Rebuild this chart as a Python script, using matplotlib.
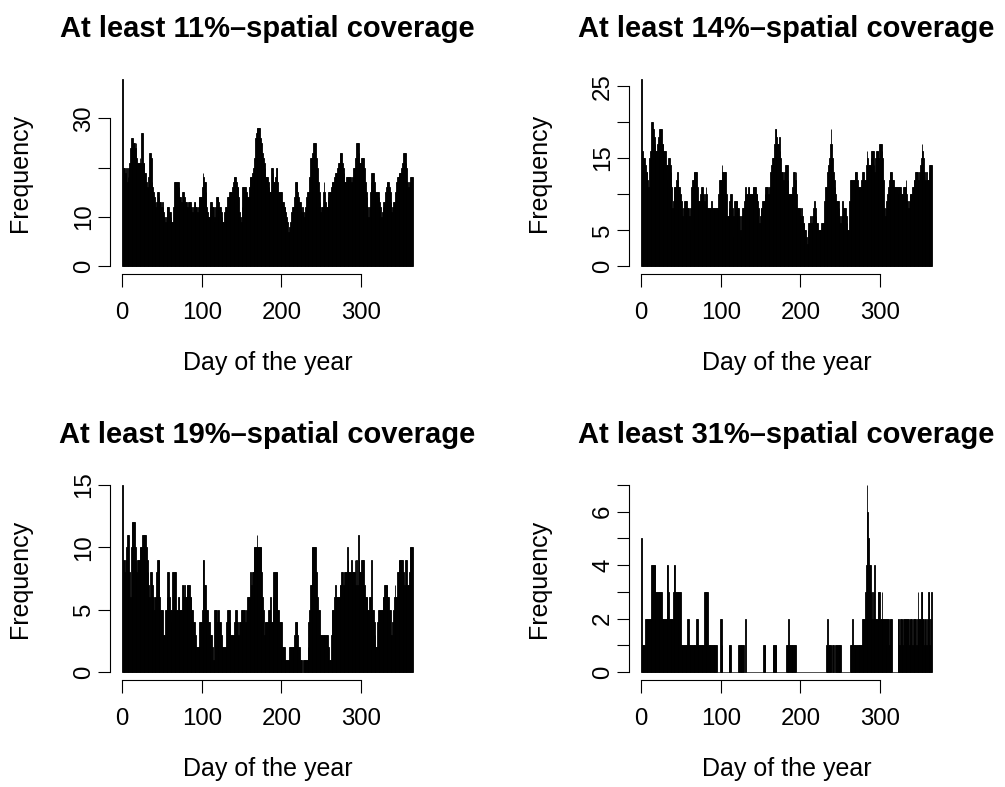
import numpy as np
import matplotlib
matplotlib.use("Agg")
import matplotlib.pyplot as plt

plt.rcParams['font.family'] = ['Liberation Sans', 'DejaVu Sans']

days = np.arange(1, 366)

# daily counts of events for each coverage threshold
p11 = [38, 20, 19, 20, 19, 20, 17, 18, 20, 21,
       24, 26, 25, 26, 25, 25, 24, 25, 22, 21,
       21, 21, 22, 21, 27, 27, 21, 21, 19, 19,
       17, 16, 16, 18, 23, 23, 22, 17, 16, 15,
       14, 13, 12, 13, 15, 15, 14, 13, 13, 12,
       13, 12, 11, 10, 9, 10, 12, 12, 12, 11,
       11, 10, 9, 9, 12, 17, 17, 17, 17, 17,
       17, 16, 14, 14, 13, 15, 15, 15, 14, 13,
       13, 12, 12, 13, 13, 13, 12, 12, 11, 12,
       13, 13, 12, 12, 11, 12, 14, 14, 14, 14,
       16, 19, 18, 17, 17, 15, 12, 11, 10, 10,
       12, 13, 13, 12, 12, 9, 10, 12, 14, 14,
       14, 13, 12, 12, 11, 10, 9, 9, 11, 12,
       12, 12, 14, 14, 15, 15, 15, 15, 16, 17,
       18, 18, 18, 17, 16, 16, 14, 11, 10, 9,
       12, 16, 16, 16, 16, 15, 15, 14, 14, 16,
       18, 18, 18, 19, 20, 20, 22, 26, 27, 28,
       28, 28, 28, 26, 25, 25, 23, 22, 21, 20,
       18, 18, 18, 17, 16, 15, 15, 20, 20, 19,
       17, 17, 18, 20, 20, 17, 15, 15, 15, 15,
       15, 13, 13, 12, 12, 11, 10, 9, 7, 7,
       8, 9, 11, 12, 12, 12, 14, 17, 17, 17,
       15, 14, 13, 13, 12, 11, 12, 11, 10, 11,
       12, 14, 15, 15, 15, 18, 22, 22, 22, 23,
       25, 25, 25, 22, 22, 20, 17, 15, 13, 11,
       12, 12, 15, 17, 15, 13, 12, 12, 14, 15,
       15, 15, 16, 17, 17, 17, 18, 19, 19, 19,
       20, 21, 21, 23, 23, 23, 21, 20, 19, 17,
       17, 18, 18, 18, 18, 18, 18, 17, 17, 18,
       20, 20, 20, 22, 25, 25, 25, 23, 21, 21,
       22, 22, 22, 22, 20, 17, 15, 14, 12, 10,
       12, 15, 17, 19, 19, 19, 17, 15, 15, 15,
       15, 15, 14, 13, 12, 10, 11, 12, 13, 13,
       15, 16, 17, 17, 17, 16, 15, 13, 11, 12,
       13, 13, 13, 15, 17, 18, 18, 19, 19, 19,
       20, 21, 21, 23, 23, 23, 21, 20, 17, 16,
       17, 17, 18, 18, 18]

p14 = [26, 16, 14, 15, 15, 14, 13, 13, 12, 11,
       15, 16, 16, 20, 20, 19, 18, 17, 16, 16,
       17, 18, 18, 19, 19, 19, 17, 17, 16, 16,
       16, 14, 12, 14, 15, 15, 14, 13, 11, 8,
       9, 11, 11, 11, 12, 13, 12, 11, 11, 10,
       9, 8, 7, 8, 9, 9, 9, 9, 8, 8,
       7, 5, 8, 11, 12, 12, 13, 13, 13, 13,
       11, 9, 9, 9, 10, 11, 11, 11, 10, 9,
       10, 11, 10, 8, 8, 8, 8, 8, 9, 8,
       8, 8, 8, 8, 8, 8, 8, 10, 12, 12,
       12, 14, 13, 13, 13, 13, 13, 10, 7, 7,
       8, 9, 10, 10, 8, 4, 7, 9, 9, 9,
       9, 8, 8, 7, 5, 4, 7, 8, 8, 9,
       10, 11, 10, 10, 11, 11, 10, 10, 10, 10,
       11, 11, 11, 11, 10, 10, 9, 8, 6, 7,
       8, 8, 9, 9, 9, 10, 11, 11, 11, 10,
       9, 11, 13, 14, 15, 15, 15, 17, 19, 19,
       18, 17, 17, 18, 16, 15, 13, 13, 12, 11,
       13, 14, 14, 14, 12, 10, 10, 10, 10, 10,
       11, 13, 13, 12, 13, 10, 8, 8, 8, 8,
       7, 8, 7, 6, 6, 5, 5, 4, 3, 5,
       6, 6, 7, 6, 6, 7, 8, 9, 8, 7,
       6, 6, 5, 5, 5, 5, 6, 6, 6, 6,
       9, 11, 11, 11, 13, 14, 15, 17, 19, 17,
       15, 13, 12, 11, 10, 9, 9, 9, 8, 7,
       6, 7, 9, 8, 8, 8, 8, 7, 6, 5,
       5, 9, 12, 12, 12, 12, 12, 12, 13, 13,
       13, 12, 11, 11, 11, 11, 12, 13, 13, 13,
       12, 12, 14, 16, 15, 14, 14, 14, 15, 16,
       16, 16, 14, 13, 15, 16, 16, 16, 15, 17,
       17, 17, 16, 15, 12, 8, 7, 8, 9, 10,
       11, 12, 13, 13, 13, 12, 12, 11, 11, 11,
       11, 11, 10, 11, 11, 11, 10, 9, 10, 11,
       11, 11, 12, 10, 9, 8, 9, 10, 10, 10,
       11, 11, 12, 12, 13, 13, 13, 12, 12, 13,
       14, 15, 17, 16, 15, 13, 12, 12, 13, 12,
       12, 13, 14, 14, 14]

p19 = [15, 9, 9, 8, 9, 10, 11, 11, 11, 8,
       6, 10, 12, 12, 12, 12, 10, 9, 8, 9,
       9, 9, 10, 10, 10, 11, 11, 11, 11, 11,
       10, 9, 8, 7, 6, 8, 8, 7, 7, 6,
       5, 6, 6, 8, 9, 9, 9, 6, 5, 5,
       5, 3, 3, 3, 5, 5, 6, 8, 8, 6,
       5, 4, 5, 8, 8, 8, 8, 8, 5, 5,
       6, 6, 5, 5, 5, 7, 7, 6, 7, 6,
       6, 7, 7, 7, 7, 6, 6, 5, 5, 4,
       4, 3, 3, 2, 2, 2, 2, 4, 4, 4,
       5, 9, 9, 7, 7, 5, 5, 5, 4, 4,
       3, 3, 3, 2, 1, 1, 5, 5, 5, 4,
       5, 5, 4, 4, 3, 2, 2, 2, 2, 2,
       2, 4, 5, 5, 5, 4, 3, 3, 3, 3,
       3, 4, 5, 5, 4, 3, 3, 4, 4, 5,
       5, 5, 5, 5, 4, 4, 5, 6, 6, 6,
       6, 8, 7, 8, 8, 10, 10, 10, 10, 11,
       10, 10, 10, 10, 10, 8, 6, 5, 3, 4,
       4, 4, 4, 5, 5, 5, 6, 4, 4, 6,
       8, 8, 8, 8, 8, 5, 5, 4, 4, 4,
       4, 2, 2, 2, 1, 1, 1, 1, 1, 1,
       2, 2, 2, 2, 2, 2, 3, 4, 4, 4,
       3, 2, 2, 1, 1, 1, 0, 1, 1, 1,
       1, 1, 1, 2, 4, 5, 7, 7, 10, 10,
       10, 10, 10, 8, 8, 6, 5, 5, 3, 3,
       3, 3, 3, 3, 3, 3, 3, 3, 2, 2,
       1, 1, 3, 5, 5, 5, 6, 7, 6, 6,
       6, 6, 6, 7, 7, 8, 8, 7, 7, 8,
       8, 8, 10, 9, 8, 8, 8, 9, 8, 8,
       8, 8, 9, 7, 9, 7, 11, 9, 8, 8,
       9, 9, 9, 9, 7, 6, 6, 6, 5, 5,
       6, 6, 5, 9, 5, 5, 4, 3, 2, 2,
       4, 5, 5, 5, 5, 5, 5, 6, 6, 7,
       7, 7, 7, 6, 6, 5, 5, 3, 3, 4,
       5, 6, 7, 6, 6, 8, 8, 9, 9, 9,
       9, 9, 8, 8, 7, 9, 8, 9, 7, 7,
       8, 10, 10, 10, 10]

p31 = [5, 1, 1, 1, 1, 2, 2, 2, 2, 2,
       2, 2, 2, 4, 4, 4, 4, 4, 3, 3,
       3, 3, 3, 3, 3, 3, 2, 2, 2, 2,
       2, 2, 4, 4, 3, 2, 2, 2, 2, 2,
       3, 4, 4, 3, 3, 3, 3, 3, 3, 3,
       1, 1, 1, 1, 1, 1, 1, 1, 2, 2,
       1, 1, 1, 1, 1, 1, 1, 1, 1, 2,
       2, 1, 1, 1, 1, 1, 1, 1, 1, 3,
       3, 3, 3, 3, 1, 1, 1, 1, 1, 1,
       1, 1, 1, 1, 1, 0, 0, 0, 0, 2,
       2, 1, 0, 0, 0, 0, 0, 0, 0, 0,
       1, 1, 1, 0, 0, 0, 0, 0, 0, 0,
       0, 0, 1, 1, 1, 1, 1, 1, 1, 0,
       0, 2, 0, 0, 0, 0, 0, 0, 0, 0,
       0, 0, 0, 0, 0, 0, 0, 0, 0, 0,
       0, 0, 0, 1, 1, 1, 0, 0, 0, 0,
       0, 0, 0, 0, 0, 1, 1, 1, 1, 1,
       0, 0, 0, 0, 0, 0, 0, 0, 0, 0,
       0, 0, 1, 1, 1, 2, 1, 1, 1, 1,
       1, 1, 1, 1, 0, 0, 0, 0, 0, 0,
       0, 0, 0, 0, 0, 0, 0, 0, 0, 0,
       0, 0, 0, 0, 0, 0, 0, 0, 0, 0,
       0, 0, 0, 0, 0, 0, 0, 0, 0, 0,
       0, 0, 1, 1, 2, 1, 1, 1, 1, 0,
       1, 1, 0, 0, 1, 1, 1, 1, 1, 1,
       1, 0, 0, 0, 0, 0, 0, 0, 0, 0,
       0, 0, 1, 1, 1, 2, 1, 1, 1, 1,
       1, 1, 1, 1, 1, 1, 1, 2, 2, 2,
       2, 3, 4, 7, 6, 5, 4, 4, 3, 2,
       3, 2, 3, 4, 2, 2, 2, 3, 3, 3,
       2, 2, 3, 2, 2, 2, 2, 1, 2, 2,
       2, 1, 2, 2, 2, 0, 0, 0, 0, 0,
       0, 0, 2, 2, 1, 2, 2, 2, 1, 2,
       2, 2, 1, 2, 2, 2, 1, 2, 2, 2,
       1, 2, 2, 2, 2, 1, 2, 3, 2, 2,
       2, 3, 3, 2, 2, 1, 2, 2, 1, 2,
       3, 3, 1, 2, 3]

titles = ["At least 11%\u2013spatial coverage",
          "At least 14%\u2013spatial coverage",
          "At least 19%\u2013spatial coverage",
          "At least 31%\u2013spatial coverage"]
series = [p11, p14, p19, p31]
yticks = [[0, 10, 20, 30],
          [0, 5, 10, 15, 20, 25],
          [0, 5, 10, 15],
          [0, 1, 2, 3, 4, 5, 6, 7]]
ylabels = [["0", "10", "", "30"],
           ["0", "5", "", "15", "", "25"],
           ["0", "5", "10", "15"],
           ["0", "", "2", "", "4", "", "6", ""]]

W, H = 1005, 787
fig = plt.figure(figsize=(W / 100, H / 100), dpi=100)

# plot regions in pixels: left, right, top, bottom
boxes = [(110.4, 424.5, 71.5, 273.5),
         (629.4, 943.5, 71.5, 273.5),
         (110.4, 424.5, 477.5, 679.5),
         (629.4, 943.5, 477.5, 679.5)]

for box, counts, title, yt, yl in zip(boxes, series, titles, yticks, ylabels):
    l, r, t, b = box
    ax = fig.add_axes([l / W, 1 - b / H, (r - l) / W, (b - t) / H])
    ax.bar(days - 0.5, counts, width=1.0, color="black",
           edgecolor="black", linewidth=0.6)
    ymax = max(counts)
    ax.set_xlim(-14.6, 379.6)
    ax.set_ylim(-0.04 * ymax, 1.04 * ymax)

    ax.set_xticks([0, 100, 200, 300])
    ax.set_yticks(yt)
    ax.set_yticklabels(yl, rotation=90, va="center")
    for side in ("top", "right"):
        ax.spines[side].set_visible(False)
    ax.spines["bottom"].set_bounds(0, 300)
    ax.spines["left"].set_bounds(yt[0], yt[-1])
    for side in ("bottom", "left"):
        ax.spines[side].set_linewidth(0.8)
    ax.tick_params(length=9, width=0.8, labelsize=17.3)
    ax.tick_params(axis="x", pad=11.5)
    ax.tick_params(axis="y", pad=2)

    ax.set_title(title, fontsize=21, fontweight="bold", pad=25)
    ax.set_xlabel("Day of the year", fontsize=18)
    ax.set_ylabel("Frequency", fontsize=18)
    ax.xaxis.set_label_coords(0.5, -0.385)
    ax.yaxis.set_label_coords(-0.25, 0.5)

fig.savefig("out.png", dpi=100)
